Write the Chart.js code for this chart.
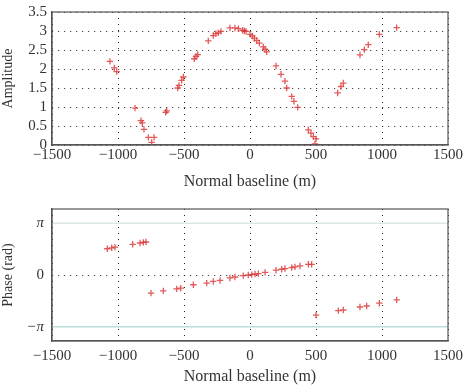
<!DOCTYPE html>
<html>
<head>
<meta charset="utf-8">
<script src="https://cdn.jsdelivr.net/npm/chart.js@4.4.1/dist/chart.umd.min.js"></script>
<style>
  html, body { margin: 0; padding: 0; background: #fff; }
  #wrap { position: relative; width: 466px; height: 386px; }
  .box { position: absolute; left: 0; width: 466px; }
</style>
</head>
<body>
<div id="wrap">
  <div class="box" style="top:2px;height:198px"><canvas id="amp"></canvas></div>
  <div class="box" style="top:200px;height:186px"><canvas id="phase"></canvas></div>
</div>
<script>
// amplitude vs normal baseline
var ampBaseline = [-1061, -1028, -1010, -871, -826, -816, -803, -770, -745, -727, -639, -631,
  -548, -538, -518, -505, -422, -409, -396, -316, -278, -258, -240, -220, -152, -114, -88,
  -56, -43, -30, 0, 18, 33, 51, 71, 101, 114, 126, 197, 235, 265, 278, 316, 333, 361,
  442, 462, 480, 500, 492, 664, 689, 707, 833, 866, 896, 980, 1111];
var ampValues = [2.20, 2.03, 1.93, 0.97, 0.64, 0.58, 0.41, 0.20, 0.07, 0.20, 0.86, 0.90,
  1.50, 1.57, 1.70, 1.79, 2.27, 2.33, 2.38, 2.74, 2.88, 2.93, 2.95, 2.99, 3.08, 3.08, 3.06,
  3.02, 3.00, 2.99, 2.91, 2.87, 2.81, 2.75, 2.68, 2.58, 2.52, 2.45, 2.08, 1.86, 1.68, 1.50,
  1.28, 1.15, 0.99, 0.40, 0.31, 0.22, 0.16, 0.03, 1.37, 1.54, 1.63, 2.37, 2.51, 2.64, 2.91, 3.09];

// phase vs normal baseline
var phaseBaseline = [-1081, -1048, -1023, -889, -833, -808, -788, -750, -657, -556, -525,
  -429, -328, -278, -227, -152, -114, -51, -13, 13, 38, 63, 114, 197, 240, 265, 316, 341,
  379, 442, 467, 500, 669, 707, 833, 884, 980, 1111];
var phaseValues = [1.59, 1.65, 1.69, 1.86, 1.94, 1.98, 2.00, -1.10, -0.96, -0.84, -0.80,
  -0.59, -0.49, -0.39, -0.33, -0.18, -0.12, -0.04, 0.00, 0.02, 0.06, 0.08, 0.16, 0.29, 0.35,
  0.39, 0.45, 0.49, 0.55, 0.65, 0.65, -2.43, -2.16, -2.12, -1.94, -1.88, -1.71, -1.51];

var xTicks = [-1500, -1000, -500, 0, 500, 1000, 1500];
var ampTicks = [0, 0.5, 1, 1.5, 2, 2.5, 3, 3.5];
var phaseTicks = [-Math.PI, 0, Math.PI];
var phaseTickLabels = ['\u2212\u03c0', '0', '\u03c0'];

var serif = '"Liberation Serif", "DejaVu Serif", serif';
var textColor = '#333';
var markRed = 'rgba(218, 50, 50, 0.8)';

function pairs(xs, ys) {
  return xs.map(function(x, i) { return { x: x, y: ys[i] }; });
}

function minus(v) {
  return String(v).replace('-', '\u2212');
}

function noPad(s) {
  s.paddingTop = 0; s.paddingBottom = 0; s.paddingLeft = 0; s.paddingRight = 0;
}

function xAxis(height, tickPad) {
  return {
    type: 'linear', min: -1500, max: 1500,
    afterBuildTicks: function(s) { s.ticks = xTicks.map(function(v) { return { value: v }; }); },
    afterFit: function(s) { s.height = height; noPad(s); },
    grid: { color: '#222', lineWidth: 1, drawTicks: false },
    border: { color: '#555', width: 1.2, dash: [1, 5] },
    ticks: { color: textColor, font: { family: serif, size: 15 }, padding: tickPad,
      maxRotation: 0, autoSkip: false,
      callback: function(v) { return minus(v); } },
    title: { display: true, text: 'Normal baseline (m)', color: textColor,
      font: { family: serif, size: 16 }, padding: { top: 4, bottom: 0 } }
  };
}

var frame = {
  id: 'frame',
  afterDraw: function(chart) {
    var a = chart.chartArea, c = chart.ctx;
    c.save();
    c.strokeStyle = '#555';
    c.lineWidth = 1.2;
    c.strokeRect(a.left, a.top, a.right - a.left, a.bottom - a.top);
    c.restore();
  }
};

new Chart(document.getElementById('amp'), {
  type: 'scatter',
  data: {
    datasets: [{
      data: pairs(ampBaseline, ampValues),
      pointStyle: 'cross', pointRadius: 3.2, borderColor: markRed, borderWidth: 1.3,
      backgroundColor: markRed
    }]
  },
  options: {
    responsive: true, maintainAspectRatio: false, animation: false,
    layout: { padding: { left: 0, right: 18, top: 10, bottom: 9 } },
    plugins: { legend: { display: false }, tooltip: { enabled: false } },
    scales: {
      x: xAxis(46, 1),
      y: {
        min: 0, max: 3.5,
        afterBuildTicks: function(s) { s.ticks = ampTicks.map(function(v) { return { value: v }; }); },
        afterFit: function(s) { s.width = 52; noPad(s); },
        grid: { color: '#222', lineWidth: 1, drawTicks: false },
        border: { color: '#555', width: 1.2, dash: [1, 5] },
        ticks: { color: textColor, font: { family: serif, size: 15 }, padding: 5, autoSkip: false,
          callback: function(v) { return String(v); } },
        title: { display: true, text: 'Amplitude', color: textColor,
          font: { family: serif, size: 14 }, padding: { top: 0, bottom: 0 } }
      }
    }
  },
  plugins: [frame]
});

new Chart(document.getElementById('phase'), {
  type: 'scatter',
  data: {
    datasets: [{
      type: 'line',
      data: [{ x: -1500, y: Math.PI }, { x: 1500, y: Math.PI }],
      borderColor: '#dde6e6', borderWidth: 1.5, pointRadius: 0
    }, {
      type: 'line',
      data: [{ x: -1500, y: -Math.PI }, { x: 1500, y: -Math.PI }],
      borderColor: '#b9e0da', borderWidth: 1.5, pointRadius: 0
    }, {
      data: pairs(phaseBaseline, phaseValues),
      pointStyle: 'cross', pointRadius: 3.2, borderColor: markRed, borderWidth: 1.3,
      backgroundColor: markRed
    }]
  },
  options: {
    responsive: true, maintainAspectRatio: false, animation: false,
    layout: { padding: { left: 0, right: 18, top: 9, bottom: 0 } },
    plugins: { legend: { display: false }, tooltip: { enabled: false } },
    scales: {
      x: xAxis(45, 6),
      y: {
        min: -4, max: 4,
        afterBuildTicks: function(s) { s.ticks = phaseTicks.map(function(v) { return { value: v }; }); },
        afterFit: function(s) { s.width = 52; noPad(s); },
        grid: { drawTicks: false, lineWidth: 1,
          color: function(ctx) { return ctx.tick && ctx.tick.value === 0 ? '#222' : 'rgba(0,0,0,0)'; } },
        border: { color: '#555', width: 1.2, dash: [1, 5] },
        ticks: {
          color: textColor, padding: 8, autoSkip: false,
          font: function(ctx) {
            var z = ctx.tick && ctx.tick.value === 0;
            return { family: serif, size: 15, style: z ? 'normal' : 'italic' };
          },
          callback: function(v, i) { return phaseTickLabels[i]; }
        },
        title: { display: true, text: 'Phase (rad)', color: textColor,
          font: { family: serif, size: 14 }, padding: { top: 0, bottom: 0 } }
      }
    }
  },
  plugins: [frame]
});
</script>
</body>
</html>
